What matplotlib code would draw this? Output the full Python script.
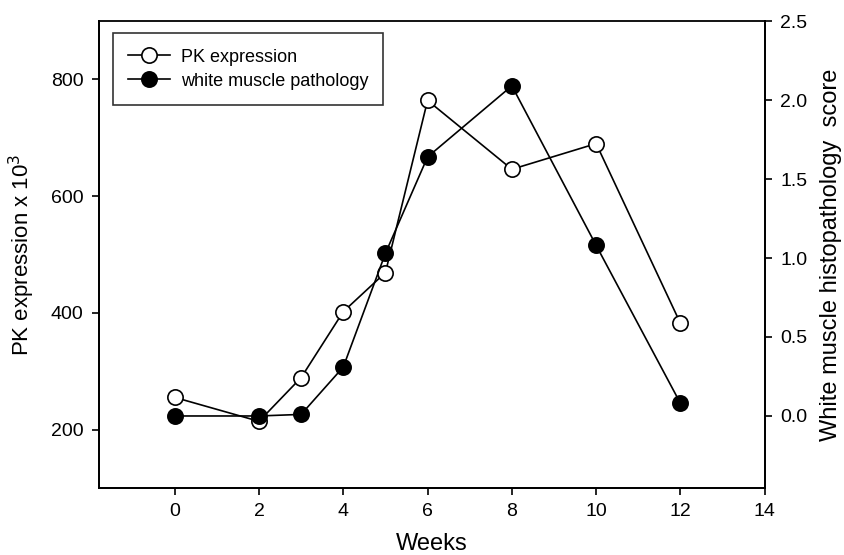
import numpy as np
import matplotlib
matplotlib.use('Agg')
import matplotlib.pyplot as plt

plt.rcParams['font.family'] = ['Liberation Sans', 'DejaVu Sans']

# datos
weeks = [0, 2, 3, 4, 5, 6, 8, 10, 12]
pk_expr = [255, 214, 289, 402, 469, 764, 646, 690, 382]        # PK expression x 10^3
pathology = [0.0, 0.0, 0.01, 0.31, 1.03, 1.64, 2.09, 1.08, 0.08]  # white muscle score

xticks = [0, 2, 4, 6, 8, 10, 12, 14]
yticks_left = [200, 400, 600, 800]
yticks_right = [0.0, 0.5, 1.0, 1.5, 2.0, 2.5]

fig = plt.figure(figsize=(8.45, 5.55), dpi=100)
ax = fig.add_axes([0.117, 0.121, 0.788, 0.841])
ax2 = ax.twinx()

l1, = ax.plot(weeks, pk_expr, '-o', color='black', mfc='white', mec='black',
              ms=11, mew=1.2, lw=1.2, label='PK expression', zorder=3)
l2, = ax2.plot(weeks, pathology, '-o', color='black', mfc='black', mec='black',
               ms=11, mew=1.2, lw=1.2, label='white muscle pathology', zorder=3)

ax.set_xlim(-1.8, 14)
ax.set_ylim(100, 900)
ax2.set_ylim(-0.455, 2.5)
ax.set_xticks(xticks)
ax.set_yticks(yticks_left)
ax2.set_yticks(yticks_right)
ax2.set_yticklabels(['%.1f' % v for v in yticks_right])

for a in (ax, ax2):
    for s in a.spines.values():
        s.set_linewidth(1.3)
    a.tick_params(direction='out', length=5, width=1.2, labelsize=14, colors='black', pad=6)
ax2.spines['top'].set_visible(False)

ax.set_xlabel('Weeks', fontsize=17, labelpad=9)
ax.set_ylabel('PK expression x 10$^3$', fontsize=16, labelpad=10)
ax2.set_ylabel('White muscle histopathology  score', fontsize=17, labelpad=9)

leg = ax.legend(handles=[l1, l2], loc='upper left', bbox_to_anchor=(0.021, 0.974),
                fontsize=13, frameon=True, fancybox=False, edgecolor='black',
                handlelength=2.3, handletextpad=0.6, borderpad=0.85, labelspacing=0.4,
                borderaxespad=0)
leg.get_frame().set_linewidth(1.2)

plt.savefig('out.png', dpi=100)
